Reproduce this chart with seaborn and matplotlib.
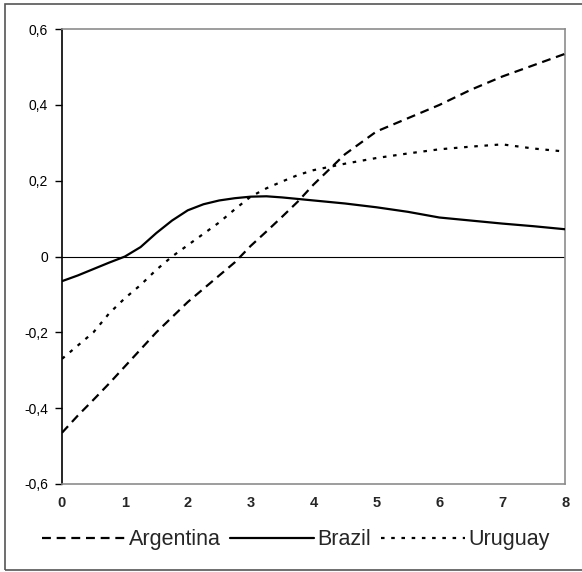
import numpy as np
import pandas as pd
import seaborn as sns
import matplotlib.pyplot as plt
from matplotlib.patches import Rectangle

# x grid (years after shock)
x_vals = [0, 0.25, 0.5, 0.75, 1, 1.25, 1.5, 1.75, 2, 2.25, 2.5, 2.75, 3,
          3.25, 3.5, 3.75, 4, 4.5, 5, 5.5, 6, 6.5, 7, 7.5, 8]

argentina = [-0.465, -0.42, -0.378, -0.335, -0.29, -0.245, -0.2, -0.16, -0.12,
             -0.085, -0.05, -0.015, 0.028, 0.066, 0.105, 0.145, 0.19, 0.27,
             0.33, 0.365, 0.4, 0.44, 0.475, 0.505, 0.535]
brazil = [-0.065, -0.05, -0.033, -0.016, 0.0, 0.025, 0.062, 0.095, 0.122,
          0.138, 0.148, 0.154, 0.158, 0.159, 0.156, 0.152, 0.148, 0.14,
          0.13, 0.118, 0.103, 0.095, 0.087, 0.08, 0.072]
uruguay = [-0.27, -0.235, -0.2, -0.15, -0.11, -0.075, -0.035, 0.0, 0.03,
           0.06, 0.09, 0.125, 0.158, 0.18, 0.198, 0.215, 0.228, 0.245,
           0.26, 0.272, 0.283, 0.29, 0.296, 0.285, 0.277]

countries = ["Argentina", "Brazil", "Uruguay"]
y_ticks = [-0.6, -0.4, -0.2, 0, 0.2, 0.4, 0.6]
y_labels = ["-0,6", "-0,4", "-0,2", "0", "0,2", "0,4", "0,6"]
x_ticks = [0, 1, 2, 3, 4, 5, 6, 7, 8]

# long-form table for seaborn
df = pd.DataFrame({
    "x": x_vals * 3,
    "value": argentina + brazil + uruguay,
    "country": [c for c in countries for _ in x_vals],
})

sns.set_style("white")
plt.rcParams["font.family"] = ["Liberation Sans", "DejaVu Sans"]
plt.rcParams["ytick.left"] = True
plt.rcParams["ytick.major.size"] = 5
plt.rcParams["ytick.major.width"] = 1
plt.rcParams["ytick.color"] = "black"

fig = plt.figure(figsize=(5.82, 5.72), dpi=100)
ax = fig.add_axes([0.1065, 0.154, 0.8645, 0.795])

# zero line
ax.axhline(0, color="black", linewidth=0.8, zorder=1)

sns.lineplot(data=df, x="x", y="value", hue="country", style="country",
             palette={c: "black" for c in countries},
             dashes={"Argentina": (4.0, 2.6), "Brazil": "", "Uruguay": (1.6, 3.0)},
             linewidth=1.6, ax=ax, zorder=3)

ax.set_xlim(0, 8)
ax.set_ylim(-0.6, 0.6)
ax.set_xticks(x_ticks)
ax.set_xticklabels([str(t) for t in x_ticks], fontweight="bold", fontsize=10.5)
ax.set_yticks(y_ticks)
ax.set_yticklabels(y_labels, fontsize=10)
ax.set_xlabel("")
ax.set_ylabel("")
ax.tick_params(axis="x", length=0, pad=9)
ax.tick_params(axis="y", which="major", length=5, width=1, color="black",
               pad=5, left=True, direction="out")

for side in ["top", "right", "bottom"]:
    ax.spines[side].set_color("#8c8c8c")
    ax.spines[side].set_linewidth(1.2)
ax.spines["left"].set_color("black")
ax.spines["left"].set_linewidth(1.2)

handles, labels = ax.get_legend_handles_labels()
ax.legend(handles, labels, loc="center", bbox_to_anchor=(0.508, 0.056),
          bbox_transform=fig.transFigure, ncol=3, frameon=False,
          fontsize=15.5, handlelength=3.9, handletextpad=0.15,
          columnspacing=0.45)

# outer chart border
fig.patches.append(Rectangle((0.009, 0.003), 1.0, 0.99, transform=fig.transFigure,
                             fill=False, edgecolor="#555555", linewidth=1.2))

fig.savefig("out.png", dpi=100)
